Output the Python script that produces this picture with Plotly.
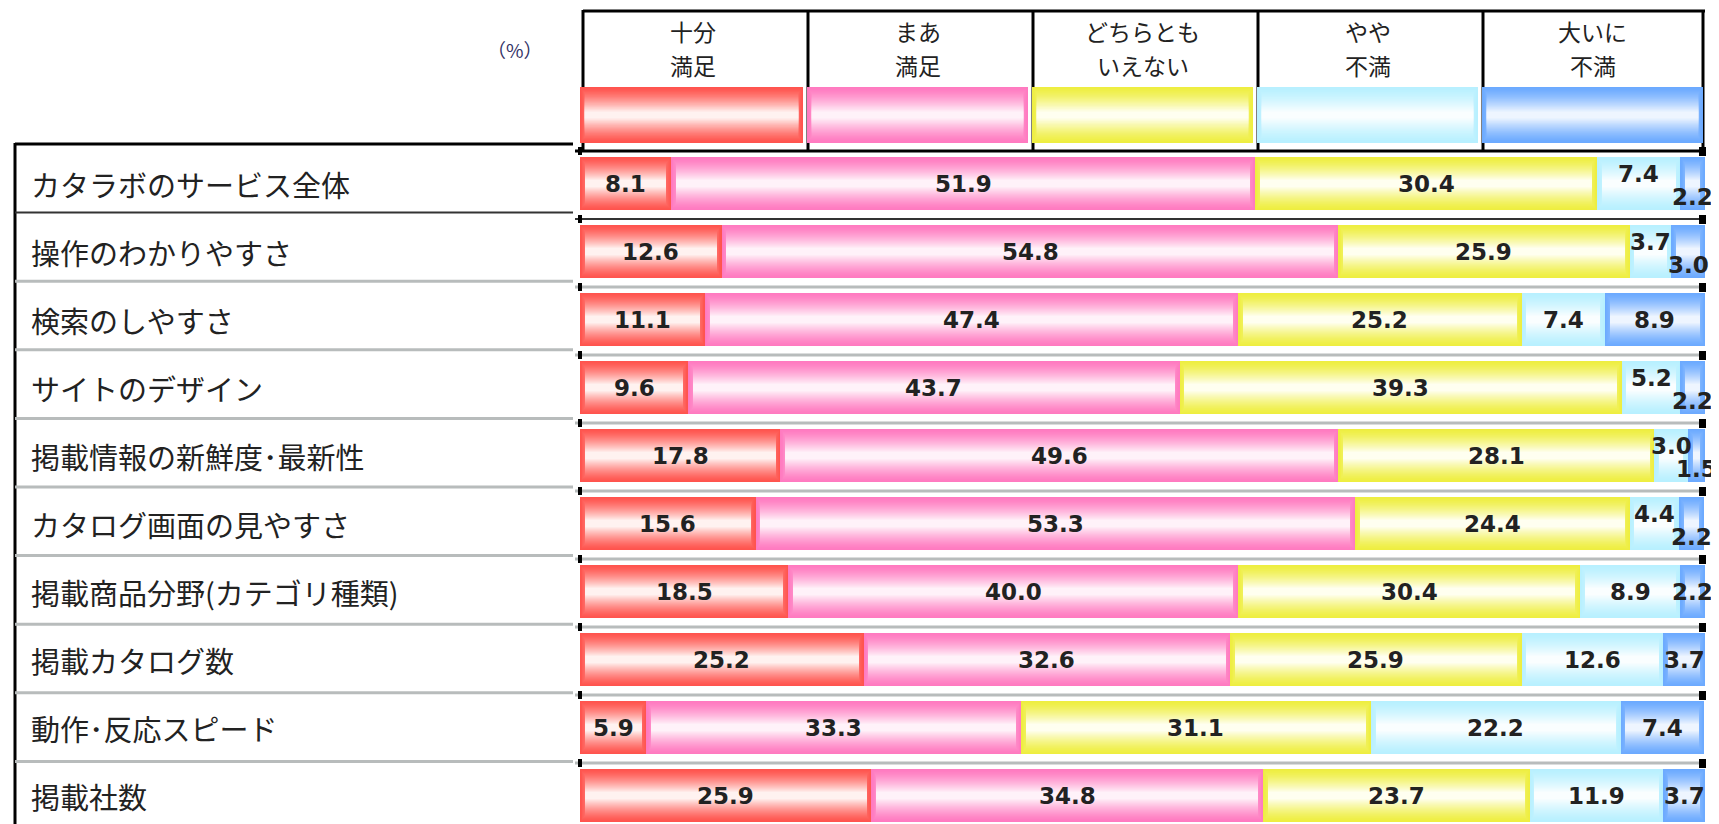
import plotly.graph_objects as go

# ---------------- data ----------------
categories = [
    "カタラボのサービス全体",
    "操作のわかりやすさ",
    "検索のしやすさ",
    "サイトのデザイン",
    "掲載情報の新鮮度･最新性",
    "カタログ画面の見やすさ",
    "掲載商品分野(カテゴリ種類)",
    "掲載カタログ数",
    "動作･反応スピード",
    "掲載社数",
]
series_names = ["十分満足", "まあ満足", "どちらともいえない", "やや不満", "大いに不満"]
header_line1 = ["十分", "まあ", "どちらとも", "やや", "大いに"]
header_line2 = ["満足", "満足", "いえない", "不満", "不満"]

very_satisfied = [8.1, 12.6, 11.1, 9.6, 17.8, 15.6, 18.5, 25.2, 5.9, 25.9]
satisfied = [51.9, 54.8, 47.4, 43.7, 49.6, 53.3, 40.0, 32.6, 33.3, 34.8]
neutral = [30.4, 25.9, 25.2, 39.3, 28.1, 24.4, 30.4, 25.9, 31.1, 23.7]
dissatisfied = [7.4, 3.7, 7.4, 5.2, 3.0, 4.4, 8.9, 12.6, 22.2, 11.9]
very_dissatisfied = [2.2, 3.0, 8.9, 2.2, 1.5, 2.2, 2.2, 3.7, 7.4, 3.7]
unit_label = "（%）"

series_values = [very_satisfied, satisfied, neutral, dissatisfied, very_dissatisfied]

# ---------------- style ----------------
W, H = 1719, 824
OFF = 8  # page body margin
FW, FH = W - OFF, H - OFF
edge_colors = [(255, 84, 78), (255, 122, 192), (238, 238, 64), (184, 240, 255), (108, 170, 255)]
center_colors = [(255, 242, 240), (255, 242, 249), (255, 255, 240), (250, 254, 255), (238, 245, 255)]

X0_PX, X1_PX = 580, 1705
ROW0_PX, ROW_PITCH = 183.5, 68.0


def yd(p):
    return (p - ROW0_PX) / ROW_PITCH


def xp(px):
    return (px - OFF) / FW


def yp(py):
    return 1 - (py - OFF) / FH


def mix(c0, c1, t):
    return "rgb(%d,%d,%d)" % tuple(round(a + (b - a) * t) for a, b in zip(c0, c1))


N_LAYERS = 24
layer_fracs = [1.0 - 0.88 * k / (N_LAYERS - 1) for k in range(N_LAYERS)]


def layer_t(k):
    return (k / (N_LAYERS - 1)) ** 1.35


fig = go.Figure()

BAR_W = 0.78
for s, vals in enumerate(series_values):
    cum = [sum(series_values[j][i] for j in range(s)) for i in range(len(categories))]
    for k in range(N_LAYERS):
        inset = 0.07 * min(k, 6)
        fig.add_trace(go.Bar(
            orientation="h",
            y=categories,
            x=[v - 2 * inset for v in vals],
            base=[c + inset for c in cum],
            width=BAR_W * layer_fracs[k],
            marker=dict(color=mix(edge_colors[s], center_colors[s], layer_t(k)), line=dict(width=0)),
            hoverinfo="skip",
            showlegend=False,
        ))

annotations = []
# value labels
for i, cat in enumerate(categories):
    cum = 0.0
    stagger = very_dissatisfied[i] < 3.5 and dissatisfied[i] < 8
    for s, vals in enumerate(series_values):
        v = vals[i]
        ys = 0
        if stagger and s == 3:
            ys = 10
        elif stagger and s == 4:
            ys = -13
        annotations.append(dict(
            x=cum + v / 2, y=cat, xref="x", yref="y", text=f"{v:.1f}", showarrow=False,
            xanchor="center", yanchor="middle", yshift=ys,
            font=dict(family="DejaVu Sans", size=23, color="#222222", weight="bold"),
        ))
        cum += v

# row labels
for cat in categories:
    annotations.append(dict(
        x=xp(29), y=cat, xref="paper", yref="y", text=cat, showarrow=False,
        xanchor="left", yanchor="middle",
        font=dict(family="Noto Sans CJK JP", size=29, color="#222222"),
    ))

# header labels (two lines)
for s in range(5):
    for txt, ypx in ((header_line1[s], 31), (header_line2[s], 65)):
        annotations.append(dict(
            x=20 * s + 10, y=yp(ypx), xref="x", yref="paper", text=txt, showarrow=False,
            xanchor="center", yanchor="middle",
            font=dict(family="Noto Sans CJK JP", size=23, color="#222222"),
        ))

annotations.append(dict(
    x=xp(515), y=yp(49), xref="paper", yref="paper", text=unit_label, showarrow=False,
    xanchor="center", yanchor="middle",
    font=dict(family="Noto Sans CJK JP", size=19, color="#333366"),
))

shapes = []


def line(x0, y0, x1, y1, color="black", width=3):
    shapes.append(dict(type="line", xref="paper", yref="paper", x0=xp(x0), y0=yp(y0),
                       x1=xp(x1), y1=yp(y1), line=dict(color=color, width=width)))


def rect(x0, y0, x1, y1, color):
    shapes.append(dict(type="rect", xref="paper", yref="paper", x0=xp(x0), y0=yp(y0),
                       x1=xp(x1), y1=yp(y1), line=dict(width=0), fillcolor=color))


# header box
line(583, 11, 1705, 11, width=3)
cell_w = (X1_PX - X0_PX) / 5
for i in range(6):
    xx = X0_PX + 3 + cell_w * i if i < 5 else X1_PX - 2
    line(xx, 10, xx, 151, width=3)

# legend swatches with gradient
for s in range(5):
    sx0 = X0_PX + cell_w * s + (0 if s == 0 else 2)
    sx1 = X0_PX + cell_w * (s + 1) - 2
    sy0, sy1 = 87, 143
    mid, half = (sy0 + sy1) / 2, (sy1 - sy0) / 2
    for k in range(N_LAYERS):
        ins = min(k, 6) * 0.8
        h = half * layer_fracs[k]
        rect(sx0 + ins, mid - h, sx1 - ins, mid + h, mix(edge_colors[s], center_colors[s], layer_t(k)))

# bar area separators
for k in range(10):
    yy = 151 + ROW_PITCH * k
    if k == 0:
        line(575, yy, 1702, yy, width=3)
    elif k == 1:
        line(575, yy, 1702, yy, color="#333333", width=2)
    else:
        line(575, yy, 1700, yy, color="#b8bcbc", width=3)
    rect(1699, yy - 4, 1706, yy + 5, "black")
    rect(578, yy - 4, 582, yy + 4, "black")

# left table
line(15, 144, 573, 144, width=3)
line(15, 143, 15, 830, width=3)
for k in range(1, 10):
    yy = 144 + 68.6 * k
    if k == 1:
        line(15, yy, 573, yy, color="#333333", width=2)
    else:
        line(15, yy, 573, yy, color="#b8bcbc", width=3)

fig.update_layout(
    width=FW, height=FH,
    margin=dict(l=0, r=0, t=0, b=0),
    paper_bgcolor="white", plot_bgcolor="white",
    barmode="overlay", bargap=0,
    showlegend=False,
    xaxis=dict(domain=[xp(X0_PX), xp(X1_PX)], range=[0, 100], visible=False, fixedrange=True),
    yaxis=dict(type="category", categoryorder="array", categoryarray=categories,
               range=[yd(H), yd(OFF)], visible=False, fixedrange=True),
    annotations=annotations,
    shapes=shapes,
)

fig.write_html("out.html")
